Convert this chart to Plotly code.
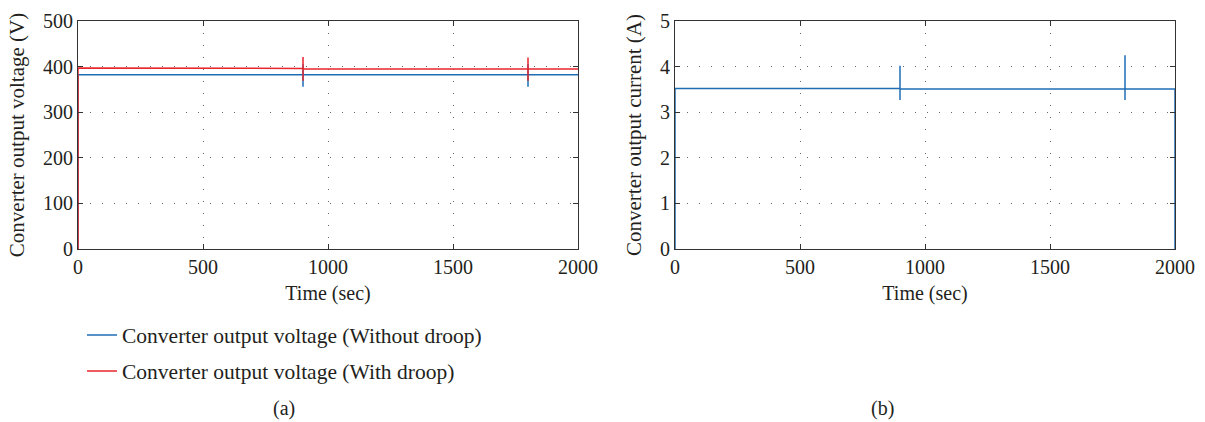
import plotly.graph_objects as go

# ---- data ----
t_volt_nodroop = [0, 0, 900, 900, 900, 900, 1800, 1800, 1800, 1800, 2000]
v_nodroop = [0, 382, 382, 356, 405, 382, 382, 356, 405, 382, 382]

t_volt_droop = [0, 0, 900, 900, 900, 900, 1800, 1800, 1800, 1800, 2000]
v_droop = [0, 397, 396, 421, 369, 395, 395, 420, 369, 395, 395]

t_curr = [0, 0, 900, 900, 900, 900, 1800, 1800, 1800, 1800, 2000, 2000]
i_curr = [0, 3.52, 3.52, 4.02, 3.27, 3.51, 3.51, 4.25, 3.27, 3.51, 3.51, 0]

x_ticks = [0, 500, 1000, 1500, 2000]
v_ticks = [0, 100, 200, 300, 400, 500]
i_ticks = [0, 1, 2, 3, 4, 5]

BLUE = "#1f6db5"
RED = "#e8262c"
FONT = "Liberation Serif"
TXT = "#231f20"
TS = 20

fig = go.Figure()
fig.add_trace(go.Scatter(x=t_volt_nodroop, y=v_nodroop, mode="lines",
                         line=dict(color=BLUE, width=1.5),
                         name="Converter output voltage (Without droop)",
                         xaxis="x", yaxis="y", legend="legend"))
fig.add_trace(go.Scatter(x=t_volt_droop, y=v_droop, mode="lines",
                         line=dict(color=RED, width=1.5),
                         name="Converter output voltage (With droop)",
                         xaxis="x", yaxis="y", legend="legend2"))
fig.add_trace(go.Scatter(x=t_curr, y=i_curr, mode="lines",
                         line=dict(color=BLUE, width=1.5),
                         name="Converter output current", showlegend=False,
                         xaxis="x2", yaxis="y2"))

grid_dash = "1px,11px"
common_x = dict(range=[0, 2000], tickvals=x_ticks, ticks="inside", ticklen=5,
                tickcolor="#333", showline=True, linecolor="#333", linewidth=1,
                mirror="ticks", showgrid=True, gridcolor="#666", griddash=grid_dash,
                gridwidth=1, zeroline=False, automargin=False,
                tickfont=dict(family=FONT, size=TS, color=TXT),
                title=dict(text="Time (sec)", font=dict(family=FONT, size=TS, color=TXT), standoff=8))
common_y = dict(ticks="inside", ticklen=5, tickcolor="#333", showline=True,
                linecolor="#333", linewidth=1, mirror="ticks", showgrid=True,
                gridcolor="#666", griddash=grid_dash, gridwidth=1, zeroline=False,
                automargin=False,
                tickfont=dict(family=FONT, size=TS, color=TXT))

fig.update_layout(
    width=1205, height=422,
    margin=dict(l=0, r=0, t=0, b=0),
    paper_bgcolor="white", plot_bgcolor="white",
    font=dict(family=FONT, size=TS, color=TXT),
    xaxis=dict(domain=[78 / 1205, 578 / 1205], anchor="y", **common_x),
    yaxis=dict(domain=[1 - 249 / 422, 1 - 21 / 422], anchor="x", range=[0, 500], tickvals=v_ticks,
               title=dict(text="Converter output voltage (V)",
                          font=dict(family=FONT, size=21, color=TXT), standoff=12),
               **common_y),
    xaxis2=dict(domain=[675 / 1205, 1175 / 1205], anchor="y2", **common_x),
    yaxis2=dict(domain=[1 - 249 / 422, 1 - 21 / 422], anchor="x2", range=[0, 5], tickvals=i_ticks,
                title=dict(text="Converter output current (A)",
                           font=dict(family=FONT, size=21, color=TXT), standoff=12),
                **common_y),
    legend=dict(x=82 / 1205, y=1 - 335 / 422, xanchor="left", yanchor="middle",
                bgcolor="rgba(0,0,0,0)", font=dict(family=FONT, size=21.5, color=TXT)),
    legend2=dict(x=82 / 1205, y=1 - 371 / 422, xanchor="left", yanchor="middle",
                 bgcolor="rgba(0,0,0,0)", font=dict(family=FONT, size=21.5, color=TXT)),
    annotations=[
        dict(text="(a)", x=284 / 1205, y=1 - 408 / 422, xref="paper", yref="paper",
             xanchor="center", yanchor="middle",
             showarrow=False, font=dict(family=FONT, size=TS, color=TXT)),
        dict(text="(b)", x=883 / 1205, y=1 - 408 / 422, xref="paper", yref="paper",
             xanchor="center", yanchor="middle",
             showarrow=False, font=dict(family=FONT, size=TS, color=TXT)),
    ],
)

fig.write_html("out.html", config={"displayModeBar": False},
               post_script="document.body.style.margin='0';document.body.style.overflow='hidden';")
